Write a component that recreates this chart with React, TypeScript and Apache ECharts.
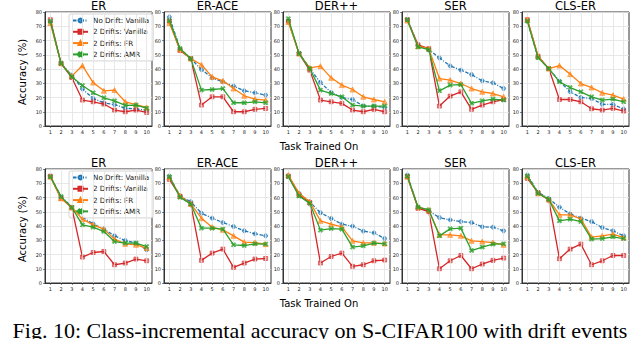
import React, { useEffect, useRef } from 'react';
import * as echarts from 'echarts';

const tasks = ['1', '2', '3', '4', '5', '6', '7', '8', '9', '10'];
const methods = ['ER', 'ER-ACE', 'DER++', 'SER', 'CLS-ER'];
const seriesNames = ['No Drift: Vanilla', '2 Drifts: Vanilla', '2 Drifts: FR', '2 Drifts: AMR'];
const yMin = 0;
const yMax = 80;
const yStep = 10;

// Top row
const erTopNoDrift = [73, 44, 35.7, 26, 19.3, 16.3, 15, 12.4, 12, 11];
const erTopVanilla = [74.6, 44, 34, 18.2, 17, 15.4, 11.2, 10, 11.2, 9.5];
const erTopFR = [72.3, 44, 35, 42.4, 30.5, 24.7, 25.2, 17, 15, 13];
const erTopAMR = [73.6, 44, 34.5, 28.4, 23.3, 19.8, 17.7, 14.5, 14.7, 12.5];

const eraceTopNoDrift = [76.5, 54.3, 47.3, 39.6, 33.8, 31, 28, 24.7, 23.3, 21.7];
const eraceTopVanilla = [73.6, 53, 47.3, 14.7, 20.5, 20.5, 10, 10, 11.7, 12.3];
const eraceTopFR = [72.3, 53.6, 47.3, 43, 34.5, 31.7, 26.3, 21.2, 18.9, 18.2];
const eraceTopAMR = [74, 54.3, 47.3, 25.2, 25.6, 26.3, 16.3, 16.3, 17, 16.3];

const derTopNoDrift = [73.6, 51.3, 40.3, 30.5, 23.5, 20, 18.6, 14, 14, 13];
const derTopVanilla = [73.6, 50.8, 39.2, 18.2, 17, 15.9, 11.2, 10, 11.7, 10];
const derTopFR = [73, 50.8, 40.8, 42, 33.8, 28.7, 25.6, 20.5, 18.6, 17];
const derTopAMR = [75.3, 50.8, 40.3, 25.2, 22.8, 20.5, 14.7, 14, 14, 14];

const serTopNoDrift = [74.6, 56.6, 53.6, 47.8, 42.2, 39.2, 36.1, 31.7, 30.3, 26.3];
const serTopVanilla = [74.6, 57, 54.3, 14, 21, 24, 11.7, 14.7, 17, 18.6];
const serTopFR = [74, 56, 54.3, 33.3, 32.2, 29.8, 26.3, 24, 22.8, 20.5];
const serTopAMR = [74.6, 55.5, 53.6, 24.7, 28.7, 29.1, 15.9, 17.7, 18.9, 18.2];

const clsTopNoDrift = [73.6, 48, 40.3, 31.5, 24, 20, 19.3, 15.2, 15.2, 11.9];
const clsTopVanilla = [74.6, 49, 40.3, 18.6, 18.6, 17, 12.1, 11.2, 12.4, 10.5];
const clsTopFR = [74.6, 49, 40.3, 42.4, 36.4, 29.8, 27, 23.3, 21.7, 18.9];
const clsTopAMR = [73.6, 48, 40.3, 31, 27, 24, 20.5, 18.2, 18.9, 17];

// Bottom row
const erBotNoDrift = [74.6, 60.6, 53.6, 46.2, 41.5, 37.8, 33.1, 29.8, 28, 23.3];
const erBotVanilla = [75, 59.4, 53, 18.2, 21.4, 22.1, 12.8, 14, 16.8, 15.6];
const erBotFR = [74.6, 59.4, 53, 44.8, 40.8, 37.8, 30.8, 27.5, 26.8, 24.5];
const erBotAMR = [74.6, 60.6, 53, 40.8, 39.2, 36.1, 29.1, 28, 28, 25.6];

const eraceBotNoDrift = [75, 61, 57, 49, 45.5, 42.4, 39.6, 36.6, 34.5, 33.1];
const eraceBotVanilla = [72.7, 61, 55.5, 15.9, 21, 23.8, 11, 14, 16.8, 17.2];
const eraceBotFR = [74.1, 61, 55.5, 45.5, 39.2, 37.3, 33.1, 28.7, 28.4, 27.3];
const eraceBotAMR = [74.6, 60.1, 55.5, 38.5, 38.5, 37.8, 26.8, 26.3, 27.5, 27.3];

const derBotNoDrift = [75, 62.9, 57, 49.3, 45.3, 41.3, 39.9, 36.4, 35.2, 31.2];
const derBotVanilla = [75, 61.7, 56.4, 14, 18.6, 21, 11.7, 12.8, 15.6, 16.1];
const derBotFR = [75.8, 62.9, 57, 43.6, 41.3, 39.4, 29.6, 28.2, 28.2, 27.7];
const derBotAMR = [74.6, 61, 55.9, 37.1, 38.2, 37.8, 25.2, 26.1, 28, 27.5];

const serBotNoDrift = [75.8, 53.2, 50.6, 45.9, 44.3, 43.1, 42.4, 39.4, 39.2, 36.6];
const serBotVanilla = [74.6, 52.4, 50.1, 10, 15.6, 19.3, 10, 13.3, 15.9, 17.5];
const serBotFR = [74.6, 53.2, 51.3, 33.8, 33.8, 33.1, 29.6, 29.1, 28.4, 26.8];
const serBotAMR = [75, 53.2, 51.3, 33.1, 38, 38.5, 22.8, 25.2, 27.3, 27.5];

const clsBotNoDrift = [75.8, 63.6, 59.4, 53.2, 48.5, 45.5, 43.1, 38.9, 36.6, 33.1];
const clsBotVanilla = [73.4, 63.4, 58.3, 17, 23.8, 27.3, 12.8, 15.6, 19.3, 19.3];
const clsBotFR = [74.6, 62.9, 58.7, 47.8, 47.8, 45, 32.2, 33.1, 34.3, 31.9];
const clsBotAMR = [75, 62.9, 58.7, 43.6, 44.8, 43.1, 30.8, 31.2, 32.4, 31.2];

const panels = [
  [erTopNoDrift, erTopVanilla, erTopFR, erTopAMR],
  [eraceTopNoDrift, eraceTopVanilla, eraceTopFR, eraceTopAMR],
  [derTopNoDrift, derTopVanilla, derTopFR, derTopAMR],
  [serTopNoDrift, serTopVanilla, serTopFR, serTopAMR],
  [clsTopNoDrift, clsTopVanilla, clsTopFR, clsTopAMR],
  [erBotNoDrift, erBotVanilla, erBotFR, erBotAMR],
  [eraceBotNoDrift, eraceBotVanilla, eraceBotFR, eraceBotAMR],
  [derBotNoDrift, derBotVanilla, derBotFR, derBotAMR],
  [serBotNoDrift, serBotVanilla, serBotFR, serBotAMR],
  [clsBotNoDrift, clsBotVanilla, clsBotFR, clsBotAMR],
];

const colors = ['#1f77b4', '#d62728', '#ff7f0e', '#2ca02c'];
const fills = ['rgba(31,119,180,0.55)', 'rgba(214,39,40,0.5)', 'rgba(255,127,14,0.55)', 'rgba(44,160,44,0.7)'];
const xMark = 'path://M2,0L5,3L8,0L10,2L7,5L10,8L8,10L5,7L2,10L0,8L3,5L0,2Z';
const symbols = ['circle', 'rect', 'triangle', xMark];
const symbolSizes = [4, 4, 5, 4.5];

const FONT = 'DejaVu Sans';

export default function App() {
  const ref = useRef<HTMLDivElement>(null);
  useEffect(() => {
    document.body.style.margin = '0';
    if (!ref.current) return;
    const chart = echarts.init(ref.current, undefined, { renderer: 'svg' });
    const lefts = [45, 164, 283, 402, 522];
    const tops = [12, 169];
    const W = 107;
    const H = 114;
    const grids: any[] = [];
    const xAxes: any[] = [];
    const yAxes: any[] = [];
    const series: any[] = [];
    const graphics: any[] = [];

    panels.forEach((panel, i) => {
      const r = Math.floor(i / 5);
      const c = i % 5;
      grids.push({
        left: lefts[c], top: tops[r], width: W, height: H,
        show: true, borderColor: '#333', borderWidth: 1, backgroundColor: 'transparent',
      });
      xAxes.push({
        gridIndex: i, type: 'category', data: tasks, boundaryGap: true,
        axisLine: { show: true, lineStyle: { color: '#333', width: 1 } },
        axisTick: { show: true, alignWithLabel: true, length: 2, lineStyle: { color: '#333', width: 0.6 } },
        axisLabel: { fontSize: 5, color: '#222', margin: 3, fontFamily: FONT, interval: 0 },
        splitLine: { show: false },
      });
      yAxes.push({
        gridIndex: i, type: 'value', min: yMin, max: yMax, interval: yStep,
        axisLine: { show: true, lineStyle: { color: '#333', width: 1 } },
        axisTick: { show: true, length: 2, lineStyle: { color: '#333', width: 0.6 } },
        axisLabel: { fontSize: 5, color: '#222', margin: 3, fontFamily: FONT },
        splitLine: { show: true, lineStyle: { color: '#e2e2e2', width: 0.8 } },
      });
      series.push({
        type: 'line', xAxisIndex: i, yAxisIndex: i, data: [], z: 1, silent: true,
        markLine: {
          silent: true, symbol: 'none', label: { show: false },
          lineStyle: { color: '#e2e2e2', width: 0.8, type: 'solid' },
          data: tasks.map((t) => ({ xAxis: t })),
        },
      });
      panel.forEach((vals, k) => {
        series.push({
          name: seriesNames[k], type: 'line', xAxisIndex: i, yAxisIndex: i,
          data: vals, z: 3 + k,
          symbol: symbols[k], symbolSize: symbolSizes[k], showSymbol: true,
          lineStyle: { color: colors[k], width: 1.3, type: k === 0 ? [3.5, 1.5, 1, 1.5] : 'solid' },
          itemStyle: { color: fills[k], borderColor: colors[k], borderWidth: 0.6 },
          emphasis: { disabled: true },
        });
      });
      graphics.push({
        type: 'text', x: lefts[c] + W / 2, y: tops[r] - 6.5,
        style: {
          text: methods[c], fontSize: 11.5, fontWeight: 'normal', fontFamily: FONT, fill: '#000',
          textAlign: 'center', textVerticalAlign: 'middle', align: 'center', verticalAlign: 'middle',
        },
      });
    });

    [0, 1].forEach((r) => {
      graphics.push({
        type: 'text', x: 22.5, y: tops[r] + H / 2 + 3, rotation: Math.PI / 2,
        style: {
          text: 'Accuracy (%)', fontSize: 10, fontWeight: 'normal', fontFamily: FONT, fill: '#000',
          textAlign: 'center', textVerticalAlign: 'middle', align: 'center', verticalAlign: 'middle',
        },
      });
      graphics.push({
        type: 'text', x: 319, y: tops[r] + H + 20,
        style: {
          text: 'Task Trained On', fontSize: 10, fontWeight: 'normal', fontFamily: FONT, fill: '#000',
          textAlign: 'center', textVerticalAlign: 'middle', align: 'center', verticalAlign: 'middle',
        },
      });
    });

    graphics.push({
      type: 'text', x: 320, y: 319,
      style: {
        text: 'Fig. 10: Class-incremental accuracy on S-CIFAR100 with drift events',
        fontSize: 22, fontWeight: 'normal', fontFamily: 'Liberation Serif, Times New Roman, serif', fill: '#000',
        textAlign: 'center', textVerticalAlign: 'top', align: 'center', verticalAlign: 'top',
      },
    });

    const legendBase = {
      data: seriesNames, orient: 'vertical', left: 69,
      itemWidth: 15, itemHeight: 5, itemGap: 4.3,
      padding: [3, 4, 3, 3],
      backgroundColor: 'rgba(255,255,255,0.85)', borderColor: '#cccccc', borderWidth: 0.8, borderRadius: 2,
      textStyle: { fontSize: 7.2, fontFamily: FONT, color: '#111' },
      selectedMode: false,
    };

    chart.setOption({
      animation: false,
      backgroundColor: '#fff',
      grid: grids,
      xAxis: xAxes,
      yAxis: yAxes,
      series,
      legend: [
        { ...legendBase, top: 14 },
        { ...legendBase, top: 171 },
      ],
      graphic: graphics,
    });
    return () => chart.dispose();
  }, []);
  return <div ref={ref} style={{ width: 640, height: 339 }} />;
}
